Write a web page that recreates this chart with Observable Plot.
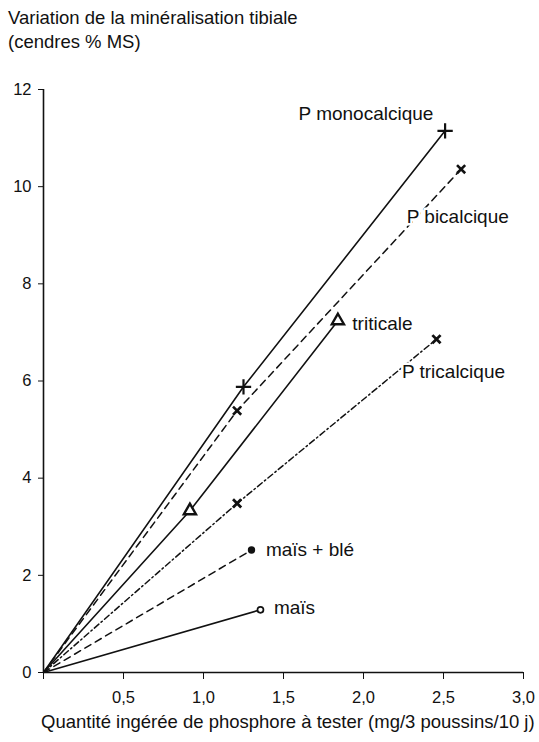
<!DOCTYPE html>
<html>
<head>
<meta charset="utf-8">
<script src="https://cdn.jsdelivr.net/npm/d3@7"></script>
<script src="https://cdn.jsdelivr.net/npm/@observablehq/plot@0.6"></script>
<style>
  body { margin: 0; background: #fff; font-family: "Liberation Sans", Arial, Helvetica, sans-serif; color: #111; }
  #title { height: 56px; box-sizing: border-box; padding: 6px 0 0 8px; font-size: 18.5px; line-height: 24px; }
  #xlabel { height: 30px; line-height: 28px; font-size: 18.5px; padding-left: 41px; white-space: nowrap; }
  svg { display: block; }
</style>
</head>
<body>
<div id="title">Variation de la minéralisation tibiale<br>(cendres % MS)</div>
<div id="chart"></div>
<div id="xlabel">Quantité ingérée de phosphore à tester (mg/3 poussins/10 j)</div>
<script>
// Data
const monoX = [0, 1.25, 2.51];
const monoY = [0, 5.88, 11.15];
const biX = [0, 1.21, 2.61];
const biY = [0, 5.39, 10.36];
const triticaleX = [0, 0.915, 1.84];
const triticaleY = [0, 3.33, 7.24];
const triX = [0, 1.21, 2.456];
const triY = [0, 3.48, 6.86];
const mbX = [0, 1.30];
const mbY = [0, 2.52];
const maisX = [0, 1.356];
const maisY = [0, 1.29];

const labelText = ["P monocalcique", "P bicalcique", "triticale", "P tricalcique", "maïs + blé", "maïs"];
const labelX = [1.594, 2.27, 1.93, 2.24, 1.39, 1.44];
const labelY = [11.5, 9.38, 7.18, 6.19, 2.53, 1.32];

const xTicks = [0, 0.5, 1, 1.5, 2, 2.5, 3];
const yTicks = [0, 2, 4, 6, 8, 10, 12];

const pts = (xs, ys) => xs.map((x, i) => ({x, y: ys[i]}));
const mono = pts(monoX, monoY);
const bi = pts(biX, biY);
const triticale = pts(triticaleX, triticaleY);
const tri = pts(triX, triY);
const mb = pts(mbX, mbY);
const mais = pts(maisX, maisY);
const labels = labelText.map((t, i) => ({t, x: labelX[i], y: labelY[i]}));

const plot = Plot.plot({
  width: 539,
  height: 652,
  marginLeft: 43,
  marginRight: 16,
  marginTop: 33,
  marginBottom: 36,
  style: {fontFamily: '"Liberation Sans", Arial, Helvetica, sans-serif', fontSize: "16.5px", color: "#111", background: "#fff"},
  x: {domain: [0, 3], ticks: xTicks, tickFormat: d => d === 0 ? "" : d.toFixed(1).replace(".", ","), tickSize: 7, tickPadding: 12, label: null},
  y: {domain: [0, 12], ticks: yTicks, tickFormat: d => String(d), tickSize: 5, tickPadding: 7, label: null},
  marks: [
    Plot.ruleX([0], {stroke: "#111", strokeWidth: 1.6}),
    Plot.ruleY([0], {stroke: "#111", strokeWidth: 1.6}),
    Plot.line(mono, {x: "x", y: "y", stroke: "#111", strokeWidth: 1.6}),
    Plot.line(bi, {x: "x", y: "y", stroke: "#111", strokeWidth: 1.5, strokeDasharray: "7,5"}),
    Plot.line(triticale, {x: "x", y: "y", stroke: "#111", strokeWidth: 1.6}),
    Plot.line(tri, {x: "x", y: "y", stroke: "#111", strokeWidth: 1.5, strokeDasharray: "6,3,1.5,3"}),
    Plot.line(mb, {x: "x", y: "y", stroke: "#111", strokeWidth: 1.5, strokeDasharray: "7,5"}),
    Plot.line(mais, {x: "x", y: "y", stroke: "#111", strokeWidth: 1.6}),
    Plot.dot(mono.slice(1), {x: "x", y: "y", symbol: "plus", r: 5, stroke: "#111", strokeWidth: 2.2}),
    Plot.dot(bi.slice(1), {x: "x", y: "y", symbol: "times", r: 3.8, stroke: "#111", strokeWidth: 2.6}),
    Plot.dot(triticale.slice(1), {x: "x", y: "y", symbol: "triangle", r: 4.5, stroke: "#111", strokeWidth: 2.4, fill: "white"}),
    Plot.dot(tri.slice(1), {x: "x", y: "y", symbol: "times", r: 3.8, stroke: "#111", strokeWidth: 2.8}),
    Plot.dot(mb.slice(1), {x: "x", y: "y", r: 3.7, fill: "#111", stroke: "none"}),
    Plot.dot(mais.slice(1), {x: "x", y: "y", r: 3, fill: "white", stroke: "#111", strokeWidth: 1.7}),
    Plot.text(labels, {x: "x", y: "y", text: "t", textAnchor: "start", fill: "#111", stroke: "white", strokeWidth: 5, fontSize: 19})
  ]
});
document.getElementById("chart").appendChild(plot);
</script>
</body>
</html>
